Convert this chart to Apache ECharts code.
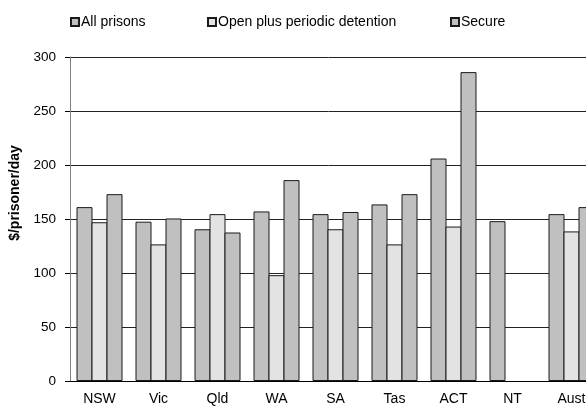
<!DOCTYPE html>
<html>
<head>
<meta charset="utf-8">
<script src="https://cdn.jsdelivr.net/npm/echarts@6/dist/echarts.min.js"></script>
<style>
  html, body { margin: 0; padding: 0; background: #fff; }
  #chart { width: 586px; height: 410px; }
</style>
</head>
<body>
<div id="chart"></div>
<script>
// jurisdictions along the x axis
var categories = ['NSW', 'Vic', 'Qld', 'WA', 'SA', 'Tas', 'ACT', 'NT', 'Aust'];
// $/prisoner/day
var allPrisons = [161, 147.5, 140.5, 157, 154.5, 163.5, 206, 148, 154.5];
var openPeriodic = [147, 126.5, 154.5, 98, 140.5, 126.5, 143, null, 138.5];
var secure = [173, 150.5, 137.5, 186, 156.5, 173, 286, null, 161];

var font = 'Liberation Sans, Arial, sans-serif';
var chart = echarts.init(document.getElementById('chart'));

function legendAt(name, left) {
  return {
    data: [{ name: name, icon: 'rect' }],
    left: left,
    top: 15,
    itemWidth: 8,
    itemHeight: 8,
    itemGap: 0,
    padding: 0,
    textStyle: { fontFamily: font, fontSize: 14, color: '#000', padding: [0, 0, 0, -3] },
    selectedMode: false
  };
}

function barSeries(name, color, values) {
  return {
    name: name,
    type: 'bar',
    data: values,
    barGap: '-6.25%', // neighbouring bars share one border
    barWidth: 16,
    animation: false,
    itemStyle: { color: color, borderColor: '#1a1a1a', borderWidth: 1 }
  };
}

chart.setOption({
  legend: [
    legendAt('All prisons', 70),
    legendAt('Open plus periodic detention', 207),
    legendAt('Secure', 450)
  ],
  grid: { left: 70, right: -15, top: 57, bottom: 29, outerBoundsMode: 'none' },
  xAxis: {
    type: 'category',
    data: categories,
    axisLine: { lineStyle: { color: '#000' } },
    axisTick: { length: 4, lineStyle: { color: '#000' } },
    axisLabel: { fontFamily: font, fontSize: 14, color: '#000', margin: 11 }
  },
  yAxis: {
    type: 'value',
    min: 0,
    max: 300,
    interval: 50,
    name: '$/prisoner/day',
    nameLocation: 'middle',
    nameGap: 41,
    nameTextStyle: { fontFamily: font, fontSize: 14, fontWeight: 'bold', color: '#000', padding: [0, 0, 0, 52] },
    axisLine: { show: true, lineStyle: { color: '#808080' } },
    axisTick: { show: true, length: 5, lineStyle: { color: '#000' } },
    axisLabel: { fontFamily: font, fontSize: 13.5, color: '#000', margin: 14 },
    splitLine: { lineStyle: { color: '#222' } }
  },
  series: [
    barSeries('All prisons', '#c0c0c0', allPrisons),
    barSeries('Open plus periodic detention', '#e3e3e3', openPeriodic),
    barSeries('Secure', '#c0c0c0', secure)
  ]
});
</script>
</body>
</html>
